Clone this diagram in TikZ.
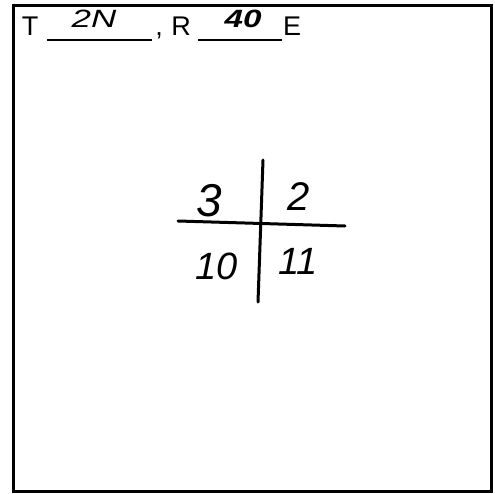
\documentclass[tikz,border=0pt]{standalone}
\usepackage{fontspec}
\setmainfont{Liberation Sans}
\begin{document}
\begin{tikzpicture}[x=1pt,y=-1pt,
  typed/.style={font=\fontsize{27}{27}\selectfont, inner sep=0pt, anchor=base},
  hand/.style={font=\fontsize{38}{38}\selectfont\itshape, inner sep=0pt},
  handsmall/.style={font=\fontsize{25}{25}\selectfont\itshape, inner sep=0pt, xscale=1.4},
  blank/.style={line width=2pt},
  rule/.style={line width=3pt, line cap=round}]
\useasboundingbox (0,0) rectangle (494,494);
\fill[white] (0,0) rectangle (494,494);
% frame
\draw[line width=3pt] (13,6) rectangle (491,491);
% header
\node[typed] (T) at (30,36) {T};
\coordinate (b1s) at (47,40); \coordinate (b1e) at (152,40);
\draw[blank] (b1s) -- (b1e);
\node[handsmall] (twoN) at (94,19) {2N};
\node[typed] (comma) at (159,36) {,};
\node[typed] (R) at (181,36) {R};
\coordinate (b2s) at (198,40); \coordinate (b2e) at (282,40);
\draw[blank] (b2s) -- (b2e);
\node[handsmall, font=\fontsize{25}{25}\selectfont\bfseries\itshape, xscale=0.95] (forty) at (243,19) {40};
\node[typed] (E) at (292,36) {E};
% cross
\coordinate (vt) at (263,160); \coordinate (vb) at (258,302);
\coordinate (hl) at (178,221); \coordinate (hr) at (345,226);
\draw[rule] (vt) -- (vb);
\draw[rule] (hl) -- (hr);
\node[hand, font=\fontsize{46}{46}\selectfont\itshape] (n3) at (209,201) {3};
\node[hand, font=\fontsize{40}{40}\selectfont\itshape] (n2) at (299,197) {2};
\node[hand] (n10) at (217,266) {10};
\node[hand] (n11) at (298,261) {11};
\end{tikzpicture}
\end{document}
